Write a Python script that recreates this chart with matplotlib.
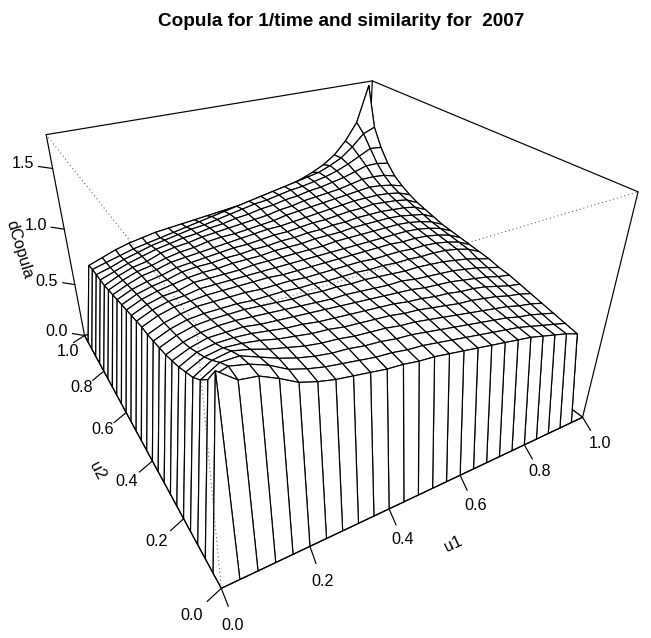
import numpy as np
import matplotlib
matplotlib.use("Agg")
import matplotlib.pyplot as plt
from matplotlib.collections import PolyCollection

plt.rcParams['font.family'] = ['Liberation Sans', 'DejaVu Sans']

TITLE = "Copula for 1/time and similarity for  2007"
U_TICKS = [0.0, 0.2, 0.4, 0.6, 0.8, 1.0]
Z_TICKS = [0.0, 0.5, 1.0, 1.5]
ZMAX = 1.76

density = [
 [1.39,1.29,1.27,1.21,1.14,1.10,1.07,1.05,1.03,1.01,1.00,.98,.97,.95,.93,.91,.89,.87,.85,.83,.80,.77,.74,.70],
 [1.26,1.30,1.27,1.22,1.15,1.11,1.08,1.06,1.04,1.02,1.01,.99,.98,.96,.94,.92,.90,.88,.86,.84,.81,.78,.75,.72],
 [1.18,1.25,1.25,1.20,1.15,1.11,1.08,1.06,1.05,1.03,1.02,1.00,.99,.97,.95,.93,.91,.89,.87,.85,.82,.80,.77,.74],
 [1.12,1.19,1.21,1.18,1.14,1.11,1.08,1.06,1.05,1.03,1.02,1.01,.99,.98,.96,.94,.92,.90,.88,.86,.84,.81,.79,.76],
 [1.08,1.14,1.16,1.15,1.13,1.10,1.08,1.06,1.05,1.03,1.02,1.01,1.00,.98,.97,.95,.93,.91,.90,.88,.86,.83,.81,.78],
 [1.04,1.10,1.12,1.12,1.11,1.09,1.07,1.06,1.04,1.03,1.02,1.01,1.00,.99,.97,.96,.94,.93,.91,.90,.88,.85,.82,.80],
 [1.01,1.06,1.09,1.09,1.09,1.07,1.06,1.05,1.04,1.03,1.02,1.01,1.00,.99,.98,.97,.95,.94,.93,.91,.89,.87,.84,.82],
 [.98,1.03,1.06,1.07,1.07,1.06,1.05,1.04,1.03,1.02,1.01,1.01,1.00,.99,.98,.98,.96,.95,.94,.93,.91,.89,.86,.83],
 [.96,1.01,1.04,1.05,1.05,1.05,1.04,1.03,1.02,1.02,1.01,1.01,1.00,1.00,.99,.98,.97,.97,.96,.95,.93,.91,.88,.85],
 [.94,.99,1.02,1.03,1.03,1.03,1.02,1.02,1.02,1.01,1.01,1.00,1.00,1.00,.99,.99,.98,.98,.97,.97,.96,.94,.91,.86],
 [.92,.97,1.00,1.02,1.02,1.02,1.02,1.01,1.01,1.01,1.00,1.00,1.00,1.00,1.00,.99,.99,.99,.98,.98,.97,.95,.92,.87],
 [.91,.96,.99,1.00,1.01,1.01,1.01,1.01,1.01,1.00,1.00,1.00,1.00,1.00,1.00,1.00,1.00,1.00,.99,.99,.98,.96,.93,.88],
 [.89,.94,.97,.98,1.00,1.00,1.00,1.00,1.00,1.00,1.00,1.00,1.00,1.00,1.00,1.00,1.00,1.00,1.00,1.00,.99,.97,.94,.89],
 [.87,.92,.95,.96,.99,.99,.99,.99,1.00,1.00,1.00,1.00,1.00,1.00,1.01,1.01,1.01,1.01,1.01,1.01,1.00,.98,.95,.90],
 [.85,.90,.93,.95,.97,.98,.98,.99,.99,.99,1.00,1.00,1.00,1.01,1.01,1.01,1.02,1.02,1.02,1.02,1.01,.99,.97,.92],
 [.83,.88,.91,.93,.96,.97,.97,.98,.98,.99,.99,1.00,1.00,1.01,1.01,1.02,1.02,1.03,1.03,1.03,1.02,1.01,.99,.94],
 [.81,.86,.89,.91,.94,.95,.96,.97,.98,.98,.99,1.00,1.00,1.01,1.02,1.02,1.03,1.04,1.04,1.05,1.04,1.03,1.01,.96],
 [.79,.84,.88,.90,.93,.94,.95,.96,.97,.98,.99,1.00,1.00,1.01,1.02,1.03,1.04,1.05,1.06,1.06,1.06,1.05,1.03,.99],
 [.77,.82,.86,.88,.91,.93,.94,.96,.97,.97,.98,.99,1.00,1.02,1.03,1.04,1.05,1.06,1.07,1.08,1.09,1.08,1.06,1.03],
 [.75,.80,.84,.86,.90,.92,.93,.95,.96,.97,.98,.99,1.00,1.02,1.03,1.05,1.06,1.07,1.08,1.10,1.12,1.12,1.11,1.08],
 [.74,.78,.82,.85,.88,.90,.92,.93,.95,.96,.98,.99,1.01,1.02,1.04,1.05,1.07,1.08,1.10,1.12,1.15,1.18,1.18,1.16],
 [.73,.76,.80,.83,.86,.88,.90,.92,.93,.95,.97,.99,1.01,1.02,1.04,1.06,1.07,1.09,1.11,1.14,1.18,1.23,1.28,1.27],
 [.72,.75,.78,.81,.83,.85,.87,.89,.91,.93,.95,.97,.99,1.01,1.03,1.05,1.07,1.09,1.11,1.15,1.20,1.28,1.38,1.42],
 [.70,.74,.78,.81,.83,.85,.86,.87,.88,.89,.90,.91,.92,.94,.96,.98,1.00,1.03,1.07,1.12,1.19,1.30,1.45,1.76],
]
interior_u = [0.04,0.08,0.12,0.16,0.20,0.24,0.28,0.32,0.36,0.40,0.44,0.48,
              0.52,0.56,0.60,0.64,0.68,0.72,0.76,0.80,0.84,0.88,0.92,0.96]

# the view: where box corners fall in the picture (pixels), used to fit the perspective
box_world = [(0,0,0),(1,0,0),(0,1,0),(0,1,1),(1,1,1),(1,0,1),(0,0,1)]
box_pixel = [(220,588),(583,417),(85,336),(46,134),(372,81),(638,192),(197,325)]

A, b = [], []
for (X,Y,Z),(px,py) in zip(box_world, box_pixel):
    A.append([X,Y,Z,1,0,0,0,0,-px*X,-px*Y,-px*Z]); b.append(px)
    A.append([0,0,0,0,X,Y,Z,1,-py*X,-py*Y,-py*Z]); b.append(py)
sol = np.linalg.lstsq(np.array(A,float), np.array(b,float), rcond=None)[0]
P = np.append(sol, 1.0).reshape(3,4)

def proj(u, v, z):
    h = P @ np.array([u, v, z/ZMAX, 1.0])
    return h[0]/h[2], h[1]/h[2]

fig = plt.figure(figsize=(6.51,6.38), dpi=100)
ax = fig.add_axes([0,0,1,1])
ax.set_xlim(0,651); ax.set_ylim(638,0); ax.axis('off')

LW = 0.85
def seg(a, b, **kw):
    p, q = proj(*a), proj(*b)
    kw.setdefault('color','k'); kw.setdefault('lw',LW)
    ax.plot([p[0],q[0]],[p[1],q[1]],solid_capstyle='round',**kw)

Zt = ZMAX
# back of the box
seg((0,1,0),(0,1,Zt),zorder=1); seg((0,1,Zt),(1,1,Zt),zorder=1)
seg((1,1,Zt),(1,0,Zt),zorder=1); seg((1,0,Zt),(1,0,0),zorder=1)
seg((1,1,0),(1,1,Zt),zorder=1); seg((0,1,0),(1,1,0),zorder=1); seg((1,1,0),(1,0,0),zorder=1)

# surface, far cells first; the density is 0 on the edge of the square
grid = np.concatenate(([0.0], interior_u, [1.0]))
Z = np.pad(np.array(density), 1, constant_values=0.0)
polys = []
n = len(grid)
for j in range(n-2,-1,-1):
    for i in range(n-2,-1,-1):
        polys.append([proj(grid[i],grid[j],Z[j,i]),proj(grid[i+1],grid[j],Z[j,i+1]),
                      proj(grid[i+1],grid[j+1],Z[j+1,i+1]),proj(grid[i],grid[j+1],Z[j+1,i])])
ax.add_collection(PolyCollection(polys,facecolors='white',edgecolors='k',linewidths=LW,zorder=2))

# front of the box
seg((0,0,0),(1,0,0),zorder=3); seg((0,0,0),(0,1,0),zorder=3)
dot = dict(ls=(0,(1,3)),lw=0.7,color='#444444',zorder=4)
seg((0,0,0),(0,0,Zt),**dot); seg((0,0,Zt),(0,1,Zt),**dot); seg((0,0,Zt),(1,0,Zt),**dot)

# ticks and labels
FS = 11.6
u1_off = [(7,18),(6,17),(7,16),(7,15),(8,14),(8,13)]
u1_lab = [(233,625),(323,581),(403,540),(476,505),(540,472),(600,443)]
u2_off = [(-14,13),(-13,12),(-13,11),(-12,10),(-11,9),(-11,7)]
u2_lab = [(192,615),(157,541),(127,481),(103,430),(82,388),(68,351)]
z_off = [(-12,-2),(-12,-2),(-13,-2),(-14,-2)]
z_lab = [(57,332),(47,281),(36,226),(23,164)]
for t,o,l in zip(U_TICKS,u1_off,u1_lab):
    p = proj(t,0,0); ax.plot([p[0],p[0]+o[0]],[p[1],p[1]+o[1]],color='k',lw=LW,zorder=3)
    ax.text(l[0],l[1],f"{t:.1f}",ha='center',va='center',fontsize=FS)
for t,o,l in zip(U_TICKS,u2_off,u2_lab):
    p = proj(0,t,0); ax.plot([p[0],p[0]+o[0]],[p[1],p[1]+o[1]],color='k',lw=LW,zorder=3)
    ax.text(l[0],l[1],f"{t:.1f}",ha='center',va='center',fontsize=FS)
for t,o,l in zip(Z_TICKS,z_off,z_lab):
    p = proj(0,1,t); ax.plot([p[0],p[0]+o[0]],[p[1],p[1]+o[1]],color='k',lw=LW,zorder=3)
    ax.text(l[0],l[1],f"{t:.1f}",ha='center',va='center',fontsize=FS)

ax.text(453,544,"u1",rotation=25,ha='center',va='center',fontsize=FS,rotation_mode='anchor')
ax.text(97,471,"u2",rotation=-62,ha='center',va='center',fontsize=FS,rotation_mode='anchor')
ax.text(19,249,"dCopula",rotation=-73,ha='center',va='center',fontsize=FS,rotation_mode='anchor')
ax.text(341,21,TITLE,ha='center',va='center',fontsize=13.7,fontweight='bold')

fig.savefig("out.png",dpi=100)
